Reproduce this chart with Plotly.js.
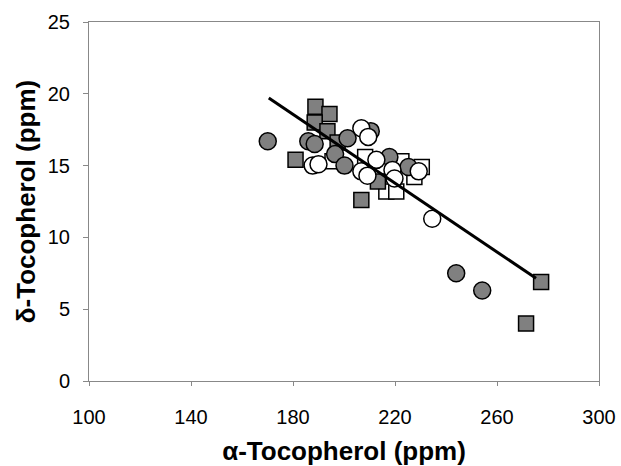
<!DOCTYPE html>
<html>
<head>
<meta charset="utf-8">
<script src="https://cdn.plot.ly/plotly-3.0.1.min.js"></script>
<style>html,body{margin:0;padding:0;background:#fff;}#chart{width:621px;height:466px;}</style>
</head>
<body>
<div id="chart"></div>
<script>
// Gray circles
const grayCircleX = [170.1, 186.0, 188.5, 201.4, 210.5, 196.5, 200.2, 217.8, 225.3, 244.0, 254.2];
const grayCircleY = [16.7, 16.7, 16.5, 16.9, 17.4, 15.8, 15.0, 15.6, 14.9, 7.5, 6.3];
// Gray squares
const graySquareX = [181.0, 188.8, 194.3, 188.5, 193.5, 197.5, 206.8, 213.3, 271.4, 277.3];
const graySquareY = [15.4, 19.1, 18.6, 18.0, 17.4, 16.6, 12.6, 13.9, 4.0, 6.9];
// Open circles
const openCircleX = [187.7, 190.0, 206.8, 209.5, 212.7, 206.8, 209.2, 219.0, 219.8, 229.3, 234.6];
const openCircleY = [15.0, 15.1, 17.6, 17.0, 15.4, 14.6, 14.3, 14.7, 14.1, 14.6, 11.3];
// Open squares
const openSquareX = [195.5, 208.3, 222.5, 216.6, 220.5, 227.6, 230.5];
const openSquareY = [15.3, 15.6, 15.3, 13.2, 13.2, 14.2, 14.9];
// Trend line
const trendX = [170.5, 275.3];
const trendY = [19.7, 7.15];
const xTicks = [100, 140, 180, 220, 260, 300];
const yTicks = [0, 5, 10, 15, 20, 25];

const font = "Liberation Sans, Arial, sans-serif";
const line = {color: '#000', width: 1.5};
const traces = [
  {x: openSquareX, y: openSquareY, mode: 'markers', type: 'scatter',
   marker: {symbol: 'square', size: 15, color: '#fff', line: line}},
  {x: graySquareX, y: graySquareY, mode: 'markers', type: 'scatter',
   marker: {symbol: 'square', size: 15, color: '#808080', line: line}},
  {x: grayCircleX, y: grayCircleY, mode: 'markers', type: 'scatter',
   marker: {symbol: 'circle', size: 17, color: '#808080', line: line}},
  {x: openCircleX, y: openCircleY, mode: 'markers', type: 'scatter',
   marker: {symbol: 'circle', size: 17, color: '#fff', line: line}},
  {x: trendX, y: trendY, mode: 'lines', type: 'scatter',
   line: {color: '#000', width: 3}}
];
const layout = {
  width: 621, height: 466,
  margin: {l: 89, r: 22, t: 22, b: 85},
  showlegend: false,
  paper_bgcolor: '#fff', plot_bgcolor: '#fff',
  font: {family: font, color: '#000'},
  xaxis: {
    range: [100, 300], tickvals: xTicks,
    ticks: 'outside', ticklen: 4, tickcolor: '#888', linecolor: '#888', linewidth: 1,
    mirror: true, showgrid: false, zeroline: false,
    tickfont: {size: 20, family: font}, ticklabelstandoff: 14,
    title: {text: '<b>α-Tocopherol (ppm)</b>', font: {size: 26, family: font}, standoff: 19}
  },
  yaxis: {
    range: [0, 25], tickvals: yTicks,
    ticks: 'outside', ticklen: 5, tickcolor: '#888', linecolor: '#888', linewidth: 1,
    mirror: true, showgrid: false, zeroline: false,
    tickfont: {size: 20, family: font}, ticklabelstandoff: 9,
    title: {text: '<b>δ-Tocopherol (ppm)</b>', font: {size: 26, family: font}, standoff: 4}
  }
};
Plotly.newPlot('chart', traces, layout, {displayModeBar: false, staticPlot: true});
</script>
</body>
</html>
